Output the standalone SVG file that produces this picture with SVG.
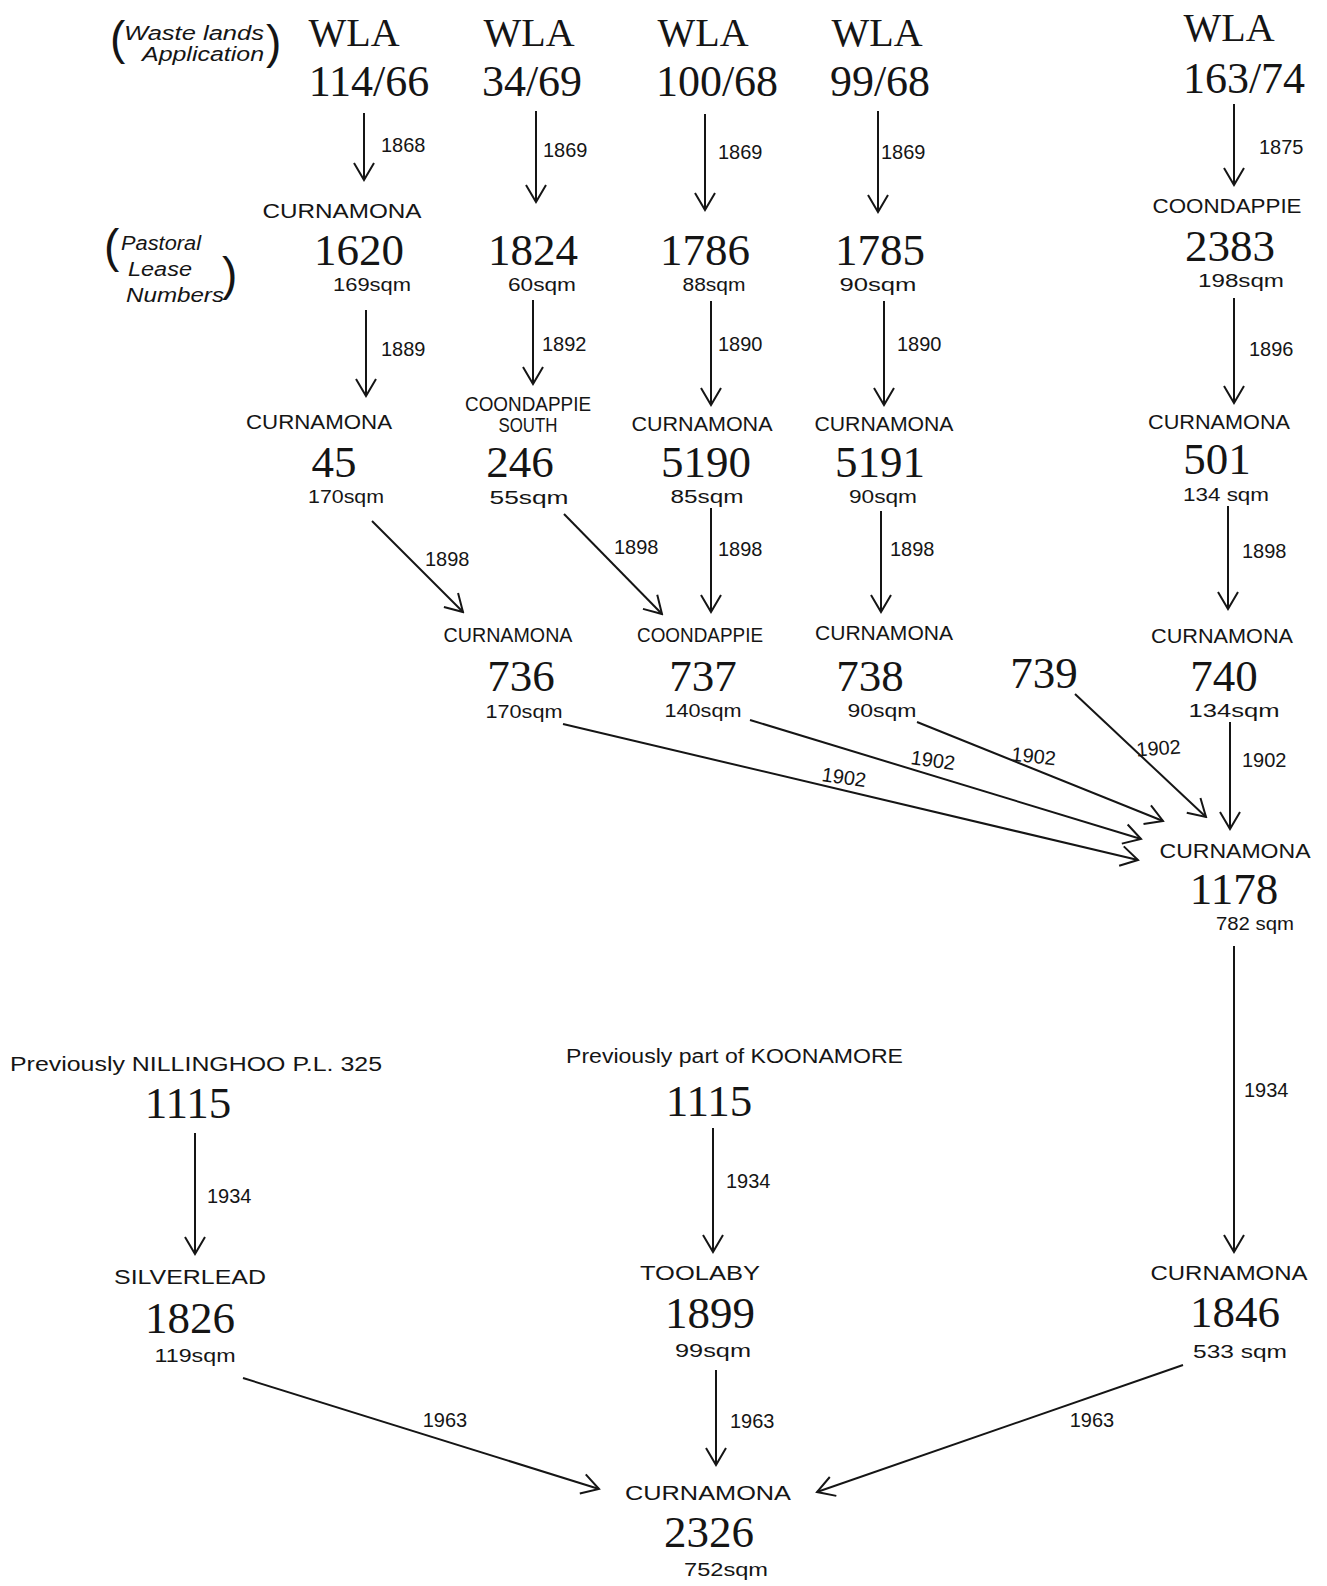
<svg xmlns="http://www.w3.org/2000/svg" width="1327" height="1586" viewBox="0 0 1327 1586">
<style>
.num{font-family:"Liberation Serif","Times New Roman",serif;font-size:45px;fill:#151515;text-anchor:middle}
.wla{font-family:"Liberation Serif","Times New Roman",serif;font-size:40px;fill:#151515;text-anchor:middle}
.wn{font-family:"Liberation Serif","Times New Roman",serif;font-size:44px;fill:#151515;text-anchor:middle}
.lbl{font-family:"Liberation Sans",Arial,sans-serif;font-size:21px;fill:#151515;text-anchor:middle}
.sq{font-family:"Liberation Sans",Arial,sans-serif;font-size:18px;fill:#151515;text-anchor:middle}
.yr{font-family:"Liberation Sans",Arial,sans-serif;font-size:20px;fill:#151515}
.yc{font-family:"Liberation Sans",Arial,sans-serif;font-size:20px;fill:#151515;text-anchor:middle}
.note{font-family:"Liberation Sans",Arial,sans-serif;font-size:20px;fill:#151515;font-style:italic}
.par{font-family:"Liberation Sans",Arial,sans-serif;font-size:46px;fill:#151515;font-weight:300}
.c line{stroke:#151515;stroke-width:2;fill:none;marker-end:url(#ah)}
</style>
<defs>
<marker id="ah" viewBox="-20 -13 22 26" refX="0" refY="0" markerWidth="22" markerHeight="26" markerUnits="userSpaceOnUse" orient="auto">
<path d="M-17,-10 L0,0 L-17,10" fill="none" stroke="#151515" stroke-width="2"/>
</marker>
</defs>
<rect width="1327" height="1586" fill="#ffffff"/>

<g id="annotations">
<text class="par" x="110" y="54">(</text>
<text class="note" x="124" y="40" textLength="140" lengthAdjust="spacingAndGlyphs">Waste lands</text>
<text class="note" x="142" y="61" textLength="122" lengthAdjust="spacingAndGlyphs">Application</text>
<text class="par" x="266" y="58">)</text>
<text class="par" x="104" y="262">(</text>
<text class="note" x="121" y="250" textLength="80" lengthAdjust="spacingAndGlyphs">Pastoral</text>
<text class="note" x="128" y="276" textLength="64" lengthAdjust="spacingAndGlyphs">Lease</text>
<text class="note" x="126" y="302" textLength="98" lengthAdjust="spacingAndGlyphs">Numbers</text>
<text class="par" x="222" y="290">)</text>
</g>

<g id="wla-114-66"><text class="wla" x="354" y="46">WLA</text><text class="wn" x="369" y="96">114/66</text></g>
<g id="wla-34-69"><text class="wla" x="529" y="46">WLA</text><text class="wn" x="532" y="96">34/69</text></g>
<g id="wla-100-68"><text class="wla" x="703" y="46">WLA</text><text class="wn" x="717" y="96">100/68</text></g>
<g id="wla-99-68"><text class="wla" x="877" y="46">WLA</text><text class="wn" x="880" y="96">99/68</text></g>
<g id="wla-163-74"><text class="wla" x="1229" y="41">WLA</text><text class="wn" x="1244" y="93">163/74</text></g>

<g id="pl-1620"><text class="lbl" x="342" y="218" textLength="159" lengthAdjust="spacingAndGlyphs">CURNAMONA</text><text class="num" x="359" y="265">1620</text><text class="sq" x="372" y="291" textLength="78" lengthAdjust="spacingAndGlyphs">169sqm</text></g>
<g id="pl-1824"><text class="num" x="533" y="265">1824</text><text class="sq" x="542" y="291" textLength="68" lengthAdjust="spacingAndGlyphs">60sqm</text></g>
<g id="pl-1786"><text class="num" x="705" y="265">1786</text><text class="sq" x="714" y="291" textLength="63" lengthAdjust="spacingAndGlyphs">88sqm</text></g>
<g id="pl-1785"><text class="num" x="880" y="265">1785</text><text class="sq" x="878" y="291" textLength="77" lengthAdjust="spacingAndGlyphs">90sqm</text></g>
<g id="pl-2383"><text class="lbl" x="1227" y="213" textLength="149" lengthAdjust="spacingAndGlyphs">COONDAPPIE</text><text class="num" x="1230" y="261">2383</text><text class="sq" x="1241" y="287" textLength="86" lengthAdjust="spacingAndGlyphs">198sqm</text></g>

<g id="pl-45"><text class="lbl" x="319" y="429" textLength="146" lengthAdjust="spacingAndGlyphs">CURNAMONA</text><text class="num" x="334" y="477">45</text><text class="sq" x="346" y="503" textLength="76" lengthAdjust="spacingAndGlyphs">170sqm</text></g>
<g id="pl-246"><text class="lbl" x="528" y="411" font-size="18" textLength="126" lengthAdjust="spacingAndGlyphs">COONDAPPIE</text><text class="lbl" x="528" y="432" font-size="18" textLength="59" lengthAdjust="spacingAndGlyphs">SOUTH</text><text class="num" x="520" y="477">246</text><text class="sq" x="529" y="504" textLength="79" lengthAdjust="spacingAndGlyphs">55sqm</text></g>
<g id="pl-5190"><text class="lbl" x="702" y="431" textLength="141" lengthAdjust="spacingAndGlyphs">CURNAMONA</text><text class="num" x="706" y="477">5190</text><text class="sq" x="707" y="503" textLength="73" lengthAdjust="spacingAndGlyphs">85sqm</text></g>
<g id="pl-5191"><text class="lbl" x="884" y="431" textLength="139" lengthAdjust="spacingAndGlyphs">CURNAMONA</text><text class="num" x="880" y="477">5191</text><text class="sq" x="883" y="503" textLength="68" lengthAdjust="spacingAndGlyphs">90sqm</text></g>
<g id="pl-501"><text class="lbl" x="1219" y="429" textLength="142" lengthAdjust="spacingAndGlyphs">CURNAMONA</text><text class="num" x="1217" y="474">501</text><text class="sq" x="1226" y="501" textLength="86" lengthAdjust="spacingAndGlyphs">134 sqm</text></g>

<g id="pl-736"><text class="lbl" x="508" y="642" textLength="129" lengthAdjust="spacingAndGlyphs">CURNAMONA</text><text class="num" x="521" y="691">736</text><text class="sq" x="524" y="718" textLength="77" lengthAdjust="spacingAndGlyphs">170sqm</text></g>
<g id="pl-737"><text class="lbl" x="700" y="642" textLength="126" lengthAdjust="spacingAndGlyphs">COONDAPPIE</text><text class="num" x="703" y="691">737</text><text class="sq" x="703" y="717" textLength="77" lengthAdjust="spacingAndGlyphs">140sqm</text></g>
<g id="pl-738"><text class="lbl" x="884" y="640" textLength="138" lengthAdjust="spacingAndGlyphs">CURNAMONA</text><text class="num" x="870" y="691">738</text><text class="sq" x="882" y="717" textLength="69" lengthAdjust="spacingAndGlyphs">90sqm</text></g>
<g id="pl-739"><text class="num" x="1044" y="688">739</text></g>
<g id="pl-740"><text class="lbl" x="1222" y="643" textLength="142" lengthAdjust="spacingAndGlyphs">CURNAMONA</text><text class="num" x="1224" y="691">740</text><text class="sq" x="1234" y="717" textLength="91" lengthAdjust="spacingAndGlyphs">134sqm</text></g>

<g id="pl-1178"><text class="lbl" x="1235" y="858" textLength="151" lengthAdjust="spacingAndGlyphs">CURNAMONA</text><text class="num" x="1234" y="904">1178</text><text class="sq" x="1255" y="930" textLength="78" lengthAdjust="spacingAndGlyphs">782 sqm</text></g>
<g id="pl-1846"><text class="lbl" x="1229" y="1280" textLength="157" lengthAdjust="spacingAndGlyphs">CURNAMONA</text><text class="num" x="1235" y="1327">1846</text><text class="sq" x="1240" y="1358" textLength="94" lengthAdjust="spacingAndGlyphs">533 sqm</text></g>

<g id="nillinghoo-1115"><text class="yr" x="10" y="1071" textLength="372" lengthAdjust="spacingAndGlyphs">Previously NILLINGHOO P.L. 325</text><text class="num" x="188" y="1118">1115</text></g>
<g id="koonamore-1115"><text class="yr" x="566" y="1063" textLength="337" lengthAdjust="spacingAndGlyphs">Previously part of KOONAMORE</text><text class="num" x="709" y="1116">1115</text></g>
<g id="pl-1826"><text class="lbl" x="190" y="1284" textLength="152" lengthAdjust="spacingAndGlyphs">SILVERLEAD</text><text class="num" x="190" y="1333">1826</text><text class="sq" x="195" y="1362" textLength="81" lengthAdjust="spacingAndGlyphs">119sqm</text></g>
<g id="pl-1899"><text class="lbl" x="700" y="1280" textLength="120" lengthAdjust="spacingAndGlyphs">TOOLABY</text><text class="num" x="710" y="1328">1899</text><text class="sq" x="713" y="1357" textLength="76" lengthAdjust="spacingAndGlyphs">99sqm</text></g>
<g id="pl-2326"><text class="lbl" x="708" y="1500" textLength="166" lengthAdjust="spacingAndGlyphs">CURNAMONA</text><text class="num" x="709" y="1547">2326</text><text class="sq" x="726" y="1576" textLength="84" lengthAdjust="spacingAndGlyphs">752sqm</text></g>

<g id="connectors" class="c">
<line x1="364" y1="113" x2="364" y2="180"/>
<line x1="536" y1="111" x2="536" y2="202"/>
<line x1="705" y1="114" x2="705" y2="210"/>
<line x1="878" y1="111" x2="878" y2="212"/>
<line x1="1234" y1="104" x2="1234" y2="185"/>
<line x1="366" y1="310" x2="366" y2="396"/>
<line x1="533" y1="300" x2="533" y2="384"/>
<line x1="711" y1="301" x2="711" y2="405"/>
<line x1="884" y1="301" x2="884" y2="405"/>
<line x1="1234" y1="298" x2="1234" y2="403"/>
<line x1="372" y1="521" x2="463" y2="612"/>
<line x1="564" y1="514" x2="662" y2="614"/>
<line x1="711" y1="508" x2="711" y2="612"/>
<line x1="881" y1="511" x2="881" y2="612"/>
<line x1="1228" y1="506" x2="1228" y2="609"/>
<line x1="563" y1="724" x2="1138" y2="860"/>
<line x1="750" y1="720" x2="1141" y2="839"/>
<line x1="917" y1="722" x2="1163" y2="821"/>
<line x1="1075" y1="694" x2="1206" y2="817"/>
<line x1="1230" y1="722" x2="1230" y2="829"/>
<line x1="1234" y1="946" x2="1234" y2="1252"/>
<line x1="195" y1="1133" x2="195" y2="1254"/>
<line x1="713" y1="1128" x2="713" y2="1252"/>
<line x1="243" y1="1378" x2="599" y2="1489"/>
<line x1="716" y1="1370" x2="716" y2="1465"/>
<line x1="1183" y1="1365" x2="817" y2="1492"/>
</g>

<g id="connector-labels">
<text class="yr" x="381" y="152">1868</text>
<text class="yr" x="543" y="157">1869</text>
<text class="yr" x="718" y="159">1869</text>
<text class="yr" x="881" y="159">1869</text>
<text class="yr" x="1259" y="154">1875</text>
<text class="yr" x="381" y="356">1889</text>
<text class="yr" x="542" y="351">1892</text>
<text class="yr" x="718" y="351">1890</text>
<text class="yr" x="897" y="351">1890</text>
<text class="yr" x="1249" y="356">1896</text>
<text class="yr" x="425" y="566">1898</text>
<text class="yr" x="614" y="554">1898</text>
<text class="yr" x="718" y="556">1898</text>
<text class="yr" x="890" y="556">1898</text>
<text class="yr" x="1242" y="558">1898</text>
<text class="yc" x="843" y="784" transform="rotate(8 843 784)">1902</text>
<text class="yc" x="932" y="767" transform="rotate(8 932 767)">1902</text>
<text class="yc" x="1033" y="763" transform="rotate(6 1033 763)">1902</text>
<text class="yc" x="1159" y="755" transform="rotate(-4 1159 755)">1902</text>
<text class="yr" x="1242" y="767">1902</text>
<text class="yr" x="1244" y="1097">1934</text>
<text class="yr" x="207" y="1203">1934</text>
<text class="yr" x="726" y="1188">1934</text>
<text class="yc" x="445" y="1427">1963</text>
<text class="yr" x="730" y="1428">1963</text>
<text class="yc" x="1092" y="1427">1963</text>
</g>
</svg>
